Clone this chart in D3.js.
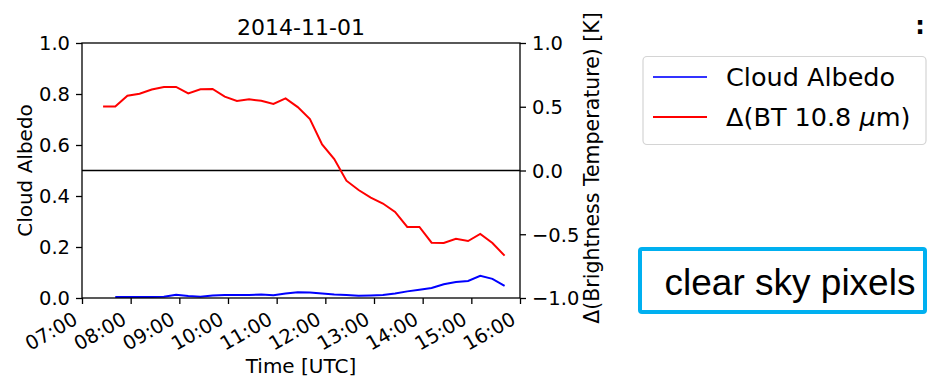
<!DOCTYPE html>
<html>
<head>
<meta charset="utf-8">
<script src="https://cdn.jsdelivr.net/npm/d3@7"></script>
<style>
  html, body { margin: 0; padding: 0; background: #fff; }
  svg { display: block; }
  text { font-family: "DejaVu Sans", sans-serif; fill: #000; }
</style>
</head>
<body>
<svg id="chart" width="928" height="377"></svg>
<script>
// ---- data ----
const title = "2014-11-01";
const times = ["07:26","07:41","07:56","08:11","08:26","08:41","08:56","09:11","09:26","09:41",
               "09:56","10:11","10:26","10:41","10:56","11:11","11:26","11:41","11:56","12:11",
               "12:26","12:41","12:56","13:11","13:26","13:41","13:56","14:11","14:26","14:41",
               "14:56","15:11","15:26","15:41"];
const cloudAlbedo = [null, 0.004, 0.004, 0.004, 0.004, 0.005, 0.013, 0.008, 0.005, 0.010,
                     0.012, 0.012, 0.012, 0.014, 0.011, 0.018, 0.023, 0.022, 0.018, 0.014,
                     0.012, 0.009, 0.010, 0.012, 0.018, 0.026, 0.032, 0.039, 0.054, 0.063,
                     0.067, 0.087, 0.075, 0.048];
const deltaBT = [0.502, 0.502, 0.587, 0.602, 0.635, 0.655, 0.655, 0.604, 0.637, 0.639,
                 0.579, 0.545, 0.558, 0.547, 0.522, 0.565, 0.497, 0.404, 0.205, 0.090,
                 -0.080, -0.153, -0.212, -0.259, -0.325, -0.443, -0.443, -0.566, -0.569, -0.535,
                 -0.553, -0.498, -0.569, -0.668];
const xDomain = ["07:00", "16:00"];
const leftTicks = [0, 0.2, 0.4, 0.6, 0.8, 1.0];
const rightTicks = [-1, -0.5, 0, 0.5, 1];
const legendLabels = ["Cloud Albedo", "Δ(BT 10.8 μm)"];
const boxLabel = "clear sky pixels";

// ---- layout ----
const L = 82, R = 520, T = 43, B = 298;
const svg = d3.select("#chart");
const parse = s => new Date(Date.UTC(2014, 10, 1, +s.slice(0,2), +s.slice(3,5)));

const x = d3.scaleUtc().domain(xDomain.map(parse)).range([L, R]);
const yL = d3.scaleLinear().domain([0, 1]).range([B, T]);
const yR = d3.scaleLinear().domain([-1, 1]).range([B, T]);

const fmtL = d3.format(".1f");
const fmtR = v => d3.format(".1f")(v).replace("-", "\u2212");

// axes
const xAxis = d3.axisBottom(x).ticks(d3.utcHour.every(1)).tickFormat(d3.utcFormat("%H:%M"))
  .tickSizeInner(6).tickSizeOuter(0);
const gx = svg.append("g").attr("transform", `translate(0,${B})`).call(xAxis);
gx.selectAll("text")
  .attr("text-anchor", "end").attr("x", null).attr("y", null).attr("dy", null)
  .attr("transform", "translate(-3.5,25) rotate(-30)")
  .style("font-size", "19.5px");

const gl = svg.append("g").attr("transform", `translate(${L},0)`)
  .call(d3.axisLeft(yL).tickValues(leftTicks).tickFormat(fmtL).tickSizeInner(6).tickSizeOuter(0).tickPadding(6));
const gr = svg.append("g").attr("transform", `translate(${R},0)`)
  .call(d3.axisRight(yR).tickValues(rightTicks).tickFormat(fmtR).tickSizeInner(6).tickSizeOuter(0).tickPadding(6));
[gl, gr].forEach(g => g.selectAll("text").attr("dy", "0.35em").style("font-size", "19.5px"));
[gx, gl, gr].forEach(g => {
  g.selectAll(".domain").remove();
  g.selectAll("line").attr("stroke", "#000").attr("stroke-width", 1.3);
  g.selectAll("text").attr("fill", "#000").style("font-family", "DejaVu Sans");
});

// zero line on right axis
svg.append("line").attr("x1", L).attr("x2", R)
  .attr("y1", yR(0)).attr("y2", yR(0)).attr("stroke", "#000").attr("stroke-width", 1.6);

// series
const pts = times.map(parse);
const lineL = d3.line().defined(d => d[1] != null).x(d => x(d[0])).y(d => yL(d[1]));
const lineR = d3.line().x(d => x(d[0])).y(d => yR(d[1]));
svg.append("path").datum(pts.map((t, i) => [t, deltaBT[i]]))
  .attr("d", lineR).attr("fill", "none").attr("stroke", "#ff0000").attr("stroke-width", 2);
svg.append("path").datum(pts.map((t, i) => [t, cloudAlbedo[i]]))
  .attr("d", lineL).attr("fill", "none").attr("stroke", "#0000ff").attr("stroke-width", 2);

// frame
svg.append("rect").attr("x", L).attr("y", T).attr("width", R - L).attr("height", B - T)
  .attr("fill", "none").attr("stroke", "#000").attr("stroke-width", 1.3);

// texts
svg.append("text").attr("x", (L + R) / 2).attr("y", 35).attr("text-anchor", "middle")
  .style("font-size", "22px").text(title);
svg.append("text").attr("x", (L + R) / 2).attr("y", 372.5).attr("text-anchor", "middle")
  .style("font-size", "20px").text("Time [UTC]");
svg.append("text").attr("transform", `translate(31.5,${(T + B) / 2}) rotate(-90)`)
  .attr("text-anchor", "middle").style("font-size", "20px").text("Cloud Albedo");
svg.append("text").attr("transform", `translate(599,168) rotate(-90)`)
  .attr("text-anchor", "middle").style("font-size", "20.5px").text("Δ(Brightness Temperature) [K]");

// legend
const lg = svg.append("g");
lg.append("rect").attr("x", 643).attr("y", 56.5).attr("width", 283).attr("height", 88)
  .attr("rx", 4).attr("fill", "#fff").attr("stroke", "#d4d4d4").attr("stroke-width", 1.2);
const legColors = ["#3333ff", "#ff0000"];
legendLabels.forEach((lab, i) => {
  const yy = 77 + i * 40;
  lg.append("line").attr("x1", 653).attr("x2", 707).attr("y1", yy).attr("y2", yy)
    .attr("stroke", legColors[i]).attr("stroke-width", 1.8);
  const t = lg.append("text").attr("x", 726).attr("y", yy + 9).style("font-size", "25.5px").attr("fill", "#222");
  if (lab.includes("μ")) {
    const [a, b] = lab.split("μ");
    t.append("tspan").text(a);
    t.append("tspan").style("font-style", "italic").text("μ");
    t.append("tspan").text(b);
  } else t.text(lab);
});

// clear sky box
svg.append("rect").attr("x", 640).attr("y", 249).attr("width", 285).attr("height", 63)
  .attr("rx", 2).attr("fill", "#fff").attr("stroke", "#00b0f0").attr("stroke-width", 4);
svg.append("text").attr("x", 790).attr("y", 295).attr("text-anchor", "middle")
  .style("font-family", "Liberation Sans, Arial, sans-serif").style("font-size", "37px").text(boxLabel);

// cropped colon at top right
svg.append("text").attr("x", 920).attr("y", 34).attr("text-anchor", "middle")
  .style("font-size", "24px").style("font-weight", "bold").text(":");
</script>
</body>
</html>
